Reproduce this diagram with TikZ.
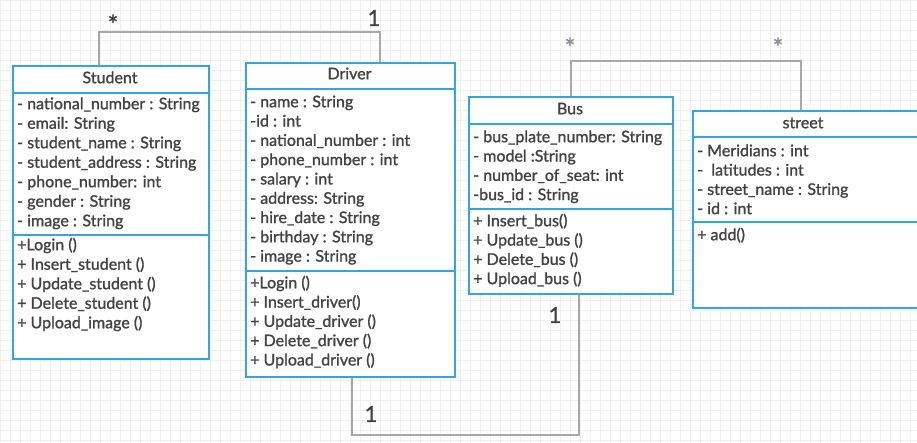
\documentclass[tikz,border=0pt]{standalone}
\usepackage{fontspec}
\setmainfont{Lato}[FakeBold=1.2]
\usetikzlibrary{calc}

\definecolor{umlblue}{HTML}{33A4E6}
\definecolor{txt}{HTML}{424242}
\definecolor{linegray}{HTML}{A8A8A8}
\definecolor{stargray}{HTML}{8A8F99}
\definecolor{gridgray}{HTML}{F0F0F0}

\tikzset{
  classbox/.style={draw=umlblue, line width=2pt, fill=white, rectangle,
    inner sep=0pt, anchor=north west},
  divider/.style={draw=umlblue, line width=1.6pt},
  member/.style={anchor=west, inner sep=0pt, text=txt, text height=11.5pt,
    text depth=3pt, font=\fontsize{16}{19}\selectfont},
  classtitle/.style={anchor=center, inner sep=0pt, text=txt, text height=11.5pt,
    text depth=3pt, font=\fontsize{16}{19}\selectfont},
  assoc/.style={draw=linegray, line width=1.8pt},
  multone/.style={text=txt, inner sep=0pt, font=\fontsize{22}{26}\selectfont},
  multstar/.style={text=txt, inner sep=0pt, font=\fontsize{25}{30}\selectfont},
}

\begin{document}
\begin{tikzpicture}[x=1pt, y=-1pt]
\useasboundingbox (0,0) rectangle (917,443);
\fill[white] (0,0) rectangle (917,443);
\draw[gridgray, line width=0.5pt, step=10pt] (0,0) grid (917,443);

% ---- Student ----
\node[classbox, minimum width=196pt, minimum height=293pt] (student) at (12,65) {};
\draw[divider] ([yshift=-28pt]student.north west) -- ([yshift=-28pt]student.north east);
\draw[divider] ([yshift=-170pt]student.north west) -- ([yshift=-170pt]student.north east);
\node[classtitle] (studentname) at (110,79) {Student};
\foreach \t [count=\i] in {- national\_number : String, - email: String,
    - student\_name : String, - student\_address : String,
    - phone\_number: int, - gender : String, - image : String}
  \node[member] (sa\i) at (17,{105+19.5*(\i-1)}) {\t};
\foreach \t [count=\i] in {+Login (), + Insert\_student (), + Update\_student (),
    + Delete\_student (), + Upload\_image ()}
  \node[member] (sm\i) at (17,{246+19.5*(\i-1)}) {\t};

% ---- Driver ----
\node[classbox, minimum width=209pt, minimum height=314pt] (driver) at (245,62) {};
\draw[divider] ([yshift=-27pt]driver.north west) -- ([yshift=-27pt]driver.north east);
\draw[divider] ([yshift=-209pt]driver.north west) -- ([yshift=-209pt]driver.north east);
\node[classtitle] (drivername) at (349.5,75) {Driver};
\foreach \t [count=\i] in {- name : String, -id : int, - national\_number : int,
    - phone\_number : int, - salary : int, - address: String,
    - hire\_date : String, - birthday : String, - image : String}
  \node[member] (da\i) at (250,{103+19.3*(\i-1)}) {\t};
\foreach \t [count=\i] in {+Login (), + Insert\_driver(), + Update\_driver (),
    + Delete\_driver (), + Upload\_driver ()}
  \node[member] (dm\i) at (250,{284+19.3*(\i-1)}) {\t};

% ---- Bus ----
\node[classbox, minimum width=204pt, minimum height=197pt] (bus) at (468,96) {};
\draw[divider] ([yshift=-28pt]bus.north west) -- ([yshift=-28pt]bus.north east);
\draw[divider] ([yshift=-113pt]bus.north west) -- ([yshift=-113pt]bus.north east);
\node[classtitle] (busname) at (570,110) {Bus};
\foreach \t [count=\i] in {- bus\_plate\_number: String, - model :String,
    - number\_of\_seat: int, -bus\_id : String}
  \node[member] (ba\i) at (473,{138+19.3*(\i-1)}) {\t};
\foreach \t [count=\i] in {+ Insert\_bus(), + Update\_bus (), + Delete\_bus (),
    + Upload\_bus ()}
  \node[member] (bm\i) at (473,{222+19.3*(\i-1)}) {\t};

% ---- street (runs past the right edge) ----
\node[classbox, minimum width=240pt, minimum height=197pt] (street) at (692,110) {};
\draw[divider] ([yshift=-27pt]street.north west) -- ([yshift=-27pt]street.north east);
\draw[divider] ([yshift=-112pt]street.north west) -- ([yshift=-112pt]street.north east);
\node[classtitle] (streetname) at (803,124) {street};
\foreach \t [count=\i] in {- Meridians : int, -~ latitudes : int,
    - street\_name : String, - id : int}
  \node[member] (sta\i) at (697,{152+19.3*(\i-1)}) {\t};
\node[member] (stm1) at (697,236) {+ add()};

% ---- associations ----
\draw[assoc] ([xshift=87pt]student.north west) -- ++(0,-33)
  -| ([xshift=135pt]driver.north west);
\node[multstar] (m1) at (113,24) {*};
\node[multone] (m2) at (374,18) {1};

\draw[assoc] ([xshift=103pt]bus.north west) -- ++(0,-35)
  -| ([xshift=109pt]street.north west);
\node[multstar, text=stargray] (m3) at (570,47) {*};
\node[multstar, text=stargray] (m4) at (778,47) {*};

\draw[assoc] ([xshift=107pt]driver.south west) -- ++(0,57)
  -| ([xshift=111pt]bus.south west);
\node[multone] (m5) at (555,315) {1};
\node[multone] (m6) at (371,414) {1};
\end{tikzpicture}
\end{document}
